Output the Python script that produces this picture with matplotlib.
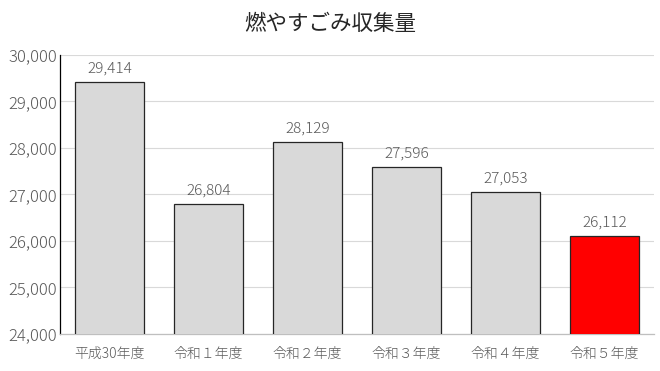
import matplotlib
matplotlib.use("Agg")
import matplotlib.pyplot as plt
from matplotlib.ticker import FuncFormatter

plt.rcParams['font.family'] = ['Noto Sans CJK JP', 'DejaVu Sans']

categories = ["平成30年度", "令和１年度", "令和２年度", "令和３年度", "令和４年度", "令和５年度"]
values = [29414, 26804, 28129, 27596, 27053, 26112]
colors = ["#d9d9d9", "#d9d9d9", "#d9d9d9", "#d9d9d9", "#d9d9d9", "#ff0000"]
title = "燃やすごみ収集量"

fig = plt.figure(figsize=(6.6, 3.71), dpi=100)
ax = fig.add_axes([0.0909, 0.0997, 0.9, 0.7523])

x = range(len(categories))
bars = ax.bar(x, values, width=0.7, color=colors, edgecolor="#262626", linewidth=0.9, zorder=3)
for xi, v in zip(x, values):
    ax.text(xi, v + 140, f"{v:,}", ha="center", va="bottom", fontsize=11,
            color="#595959", fontweight="light")

ax.set_xlim(-0.5, len(categories) - 0.5)
ax.set_ylim(24000, 30000)
ax.set_yticks(range(24000, 30001, 1000))
ax.yaxis.set_major_formatter(FuncFormatter(lambda v, p: f"{int(v):,}"))
ax.set_xticks(list(x))
ax.set_xticklabels(categories)
ax.tick_params(axis="both", length=0, labelcolor="#595959")
ax.tick_params(axis="x", pad=9, labelsize=10)
ax.tick_params(axis="y", pad=2, labelsize=12)
for lbl in ax.get_yticklabels() + ax.get_xticklabels():
    lbl.set_fontweight("light")
ax.grid(axis="y", color="#d9d9d9", linewidth=0.8, zorder=0)
for s in ["top", "right"]:
    ax.spines[s].set_visible(False)
ax.spines["left"].set_color("#000000")
ax.spines["left"].set_linewidth(0.9)
ax.spines["bottom"].set_color("#bfbfbf")
ax.spines["bottom"].set_linewidth(0.9)

fig.text(0.5, 0.935, title, ha="center", va="center", fontsize=15.5, color="#262626")

fig.savefig("out.png", dpi=100)
